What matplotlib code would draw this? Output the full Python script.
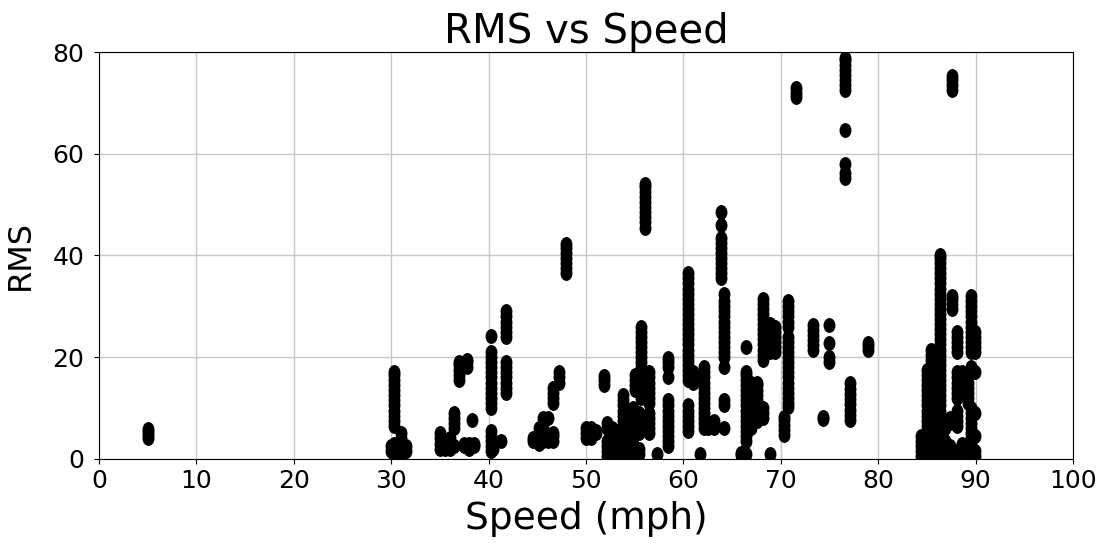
import numpy as np
import matplotlib
matplotlib.use("Agg")
import matplotlib.pyplot as plt
from matplotlib.path import Path

# speed (mph) of each measurement run and the RMS values logged at that speed
speed_runs = [
    5.0, 30.0, 30.3, 31.0, 31.5,
    35.0, 35.5, 36.0, 36.5, 37.0, 37.5, 37.8, 38.0, 38.3, 38.5,
    40.2, 40.5, 41.3, 41.8,
    44.6, 45.2, 45.6, 46.1, 46.6, 47.2, 47.9,
    50.0, 50.5, 51.0, 51.8,
    52.2, 52.7, 53.2, 53.8, 54.3, 54.8, 55.0, 55.4, 55.7, 56.1, 56.5, 57.3, 58.4,
    60.5, 61.0, 61.7, 62.1, 62.5, 63.1, 63.9, 64.2,
    65.9, 66.4, 66.9, 67.6, 68.2, 68.9, 69.4,
    70.3, 70.7, 71.6, 73.3, 74.3, 75.0, 76.6, 77.1, 79.0,
    84.4, 85.0, 85.4, 85.9, 86.4, 86.9, 87.4, 87.6, 88.1, 88.6, 89.2, 89.5, 89.9,
]

rms_runs = [
    [4.0, 4.6, 5.2, 5.8],
    [1.5, 2.5],
    [1, 2, 3, 6.5, 7.5, 8.5, 9.5, 10.5, 11.5, 12.5, 13.5, 14.5, 15.5, 16.5, 17],
    [1, 2, 3, 4, 5],
    [1.5, 2.5],
    [2, 3, 4, 5],
    [2, 3],
    [2, 3, 4],
    [2.5, 6, 7, 8, 9],
    [15.5, 16.5, 17.5, 18.5, 19],
    [2.5, 3],
    [18, 19, 19.5],
    [2, 3],
    [7.7],
    [2.5, 3],
    [1.5, 2.5, 3.5, 4.5, 5.5, 10, 11, 12, 13, 14, 15, 16, 17, 18, 19, 20, 21, 24.2],
    [2, 3],
    [3.5],
    [13, 14, 15, 16, 17, 18, 19, 24, 25, 26, 27, 28, 29],
    [3.5, 4],
    [3, 4, 5, 6],
    [3.5, 4.5, 6, 7, 8],
    [3.5, 4.5, 8],
    [3.5, 4.5, 5, 11, 12, 13, 14],
    [15, 16, 17],
    [36.5, 37.5, 38.5, 39.5, 40.5, 41.5, 42.2],
    [4, 5, 6],
    [4, 5, 6],
    [5, 5.5],
    [14.5, 15.5, 16.2],
    [0.5, 1.5, 2.5, 3.5, 6, 7],
    [0.5, 1.5, 2.5, 3.5, 6],
    [0.5, 1.5, 2.5, 3.5, 4.5, 5.5],
    [0.5, 1.5, 2.5, 3.5, 4.5, 5.5, 6.5, 7.5, 8.5, 9.5, 10.5, 11.5, 12.5],
    [0.5, 1.5, 2.5, 4, 5, 6, 7, 8],
    [0.5, 1.5, 3, 4, 5, 6, 7, 8, 9, 10],
    [13.5, 14.5, 15.5, 16.5],
    [1, 2, 5, 6, 7, 8, 9],
    [12, 13, 14, 15, 16, 17, 18, 19, 20, 21, 22, 23, 24, 25, 26],
    [45.5, 46.5, 47.5, 48.5, 49.5, 50.5, 51.5, 52.5, 53.5, 54],
    [5, 6, 7, 8, 9, 11, 12, 13, 14, 15, 16, 17],
    [1],
    [2.5, 3.5, 4.5, 5.5, 6.5, 7.5, 8.5, 9.5, 10.5, 11.5, 16, 18, 19, 19.8],
    [5.5, 6.5, 7.5, 8.5, 9.5, 10.5, 15.5, 16.5, 17.5, 18.5, 19.5, 20.5, 21.5,
     22.5, 23.5, 24.5, 25.5, 26.5, 27.5, 28.5, 29.5, 30.5, 31.5, 32.5, 33.5,
     34.5, 35.5, 36.5],
    [15, 16, 17],
    [1],
    [6, 7, 8, 9, 10, 11, 12, 13, 14, 15, 16, 17, 18],
    [6, 7],
    [6, 7.5],
    [35.5, 36.5, 37.5, 38.5, 39.5, 40.5, 41.5, 42.5, 43.5, 46, 48.5],
    [6, 10.5, 11.5, 18, 20, 21, 22, 23, 24, 25, 26, 27, 28, 29, 30, 31, 32.5],
    [0.7, 1.2],
    [1, 3.5, 4.5, 5.5, 6.5, 7.5, 8.5, 9.5, 10.5, 11.5, 12.5, 13.5, 14.5,
     15.5, 16.5, 17, 22],
    [6, 7, 8, 9, 10, 11, 12, 13, 14, 15],
    [7.5, 8.5, 9.5, 10.5, 11.5, 12.5, 13.5, 14.5, 15],
    [8, 9, 10, 19.5, 20.5, 21.5, 22.5, 23.5, 24.5, 25.5, 26.5, 27.5, 28.5,
     29.5, 30.5, 31.5],
    [1, 21, 22, 23, 24, 25, 26, 26.5],
    [21, 22, 23, 24, 25, 26],
    [4.7, 5.7, 6.7, 7.7, 8.3],
    [10.2, 11, 12, 13, 14, 15, 16, 17, 18, 19, 20, 21, 22, 23, 24, 26, 27,
     28, 29, 30, 31],
    [71.2, 72.0, 72.9],
    [21.4, 22.4, 23.4, 24.4, 25.4, 26.4],
    [7.8, 8.2],
    [19, 20, 22.8, 26.3],
    [55.2, 56.2, 58, 64.7, 72.5, 73.5, 74.5, 75.5, 76.5, 77.5, 78.5, 78.8],
    [7.7, 8.7, 9.7, 10.7, 11.7, 12.7, 13.7, 14.9],
    [21.4, 22.2, 22.8],
    [0.5, 1.5, 2.5, 3.5, 4.5],
    [0.5, 1.5, 2.5, 3.5, 4.5, 5.5, 6.5, 7.5, 8.5, 9.5, 10.5, 11.5, 12.5,
     13.5, 14.5, 15.5, 16.5, 17.5],
    [0.5, 1.5, 2.5, 3.5, 4.5, 5.5, 6.5, 7.5, 8.5, 9.5, 10.5, 11.5, 12.5,
     13.5, 14.5, 15.5, 16.5, 17.5, 18.5, 19.5, 20.5, 21.5],
    [0.5, 1.5, 2.5, 3.5, 4.5, 5.5, 6.5, 7.5, 8.5, 9.5, 10.5, 11.5, 12.5,
     13.5, 15],
    [0.5, 1.5, 2.5, 3.5, 4.5, 5.5, 6.5, 7.5, 8.5, 9.5, 10.5, 11.5, 12.5,
     13.5, 14.5, 15.5, 16.5, 17.5, 18.5, 19.5, 20.5, 21.5, 22.5, 23.5, 24.5,
     25.5, 26.5, 27.5, 28.5, 29.5, 30.5, 31.5, 32.5, 33.5, 34.5, 35.5, 36.5,
     37.5, 38.5, 39.5, 40],
    [0.5, 1.5, 2.5, 3.5, 6, 7],
    [0.5, 1.5, 2.5, 7, 8],
    [29.5, 30.5, 31.5, 32, 72.5, 73.5, 74.5, 75.3],
    [0.5, 1.5, 6.5, 7.5, 8.5, 9.5, 12, 13, 14, 15, 16, 17, 21, 22, 23, 24, 25],
    [0.5, 1.5, 3, 13, 14, 15, 16, 17],
    [1, 2, 11, 12, 13, 14, 15, 16, 17],
    [3, 4, 5, 6, 7, 8, 9, 10, 18, 21, 22, 23, 24, 25, 26, 27, 28, 29, 30,
     31, 32],
    [0.5, 1.5, 4.5, 9, 17, 21, 22, 23, 24, 25],
]

speed = np.concatenate([[s] * len(r) for s, r in zip(speed_runs, rms_runs)])
rms = np.concatenate(rms_runs)

# slightly tall oval marker
circle = Path.unit_circle()
oval = Path(circle.vertices * [0.8, 1.0], circle.codes)

fig = plt.figure(figsize=(11.05, 5.43), dpi=100)
ax = fig.add_axes([0.0896, 0.155, 0.8814, 0.749])

ax.scatter(speed, rms, s=115, marker=oval, color="black", linewidths=0, zorder=3)

ax.set_xlim(0, 100)
ax.set_ylim(0, 80)
ax.set_xticks(np.arange(0, 101, 10))
ax.set_yticks(np.arange(0, 81, 20))
ax.grid(True, color="#c8c8c8", linewidth=1)
ax.set_axisbelow(True)
ax.tick_params(labelsize=18)
ax.tick_params(axis="y", pad=7)

ax.set_title("RMS vs Speed", fontsize=29, pad=4)
ax.set_xlabel("Speed (mph)", fontsize=27, labelpad=6)
ax.set_ylabel("RMS", fontsize=23, labelpad=12)

fig.savefig("out.png", dpi=100)
